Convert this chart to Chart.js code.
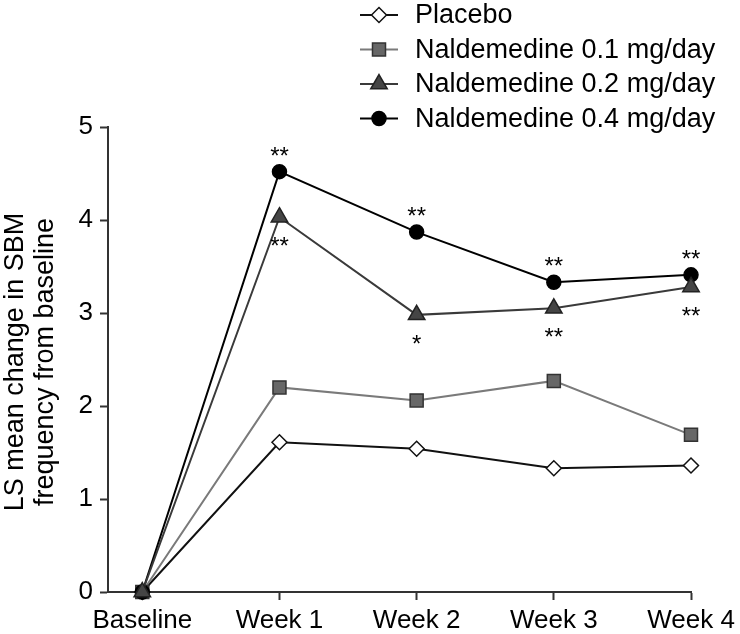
<!DOCTYPE html>
<html lang="en">
<head>
  <meta charset="UTF-8">
  <title>LS mean change in SBM frequency</title>
  <script src="https://cdn.jsdelivr.net/npm/chart.js"></script>
  <style>
    body { margin: 0; background: #fff; }
    #wrap { width: 740px; height: 634px; }
  </style>
</head>
<body>
  <div id="wrap">
    <canvas id="sbmChart" width="740" height="634"></canvas>
  </div>

  <script>
    // data
    const visits = ['Baseline', 'Week 1', 'Week 2', 'Week 3', 'Week 4'];
    const yTicks = [0, 1, 2, 3, 4, 5];
    const placebo = [0, 1.61, 1.54, 1.33, 1.36];
    const nal01 = [0, 2.20, 2.06, 2.27, 1.69];
    const nal02 = [0, 4.03, 2.98, 3.05, 3.28];
    const nal04 = [0, 4.52, 3.87, 3.33, 3.41];
    // significance marks (above 0.4 mg, below 0.2 mg)
    const stars04 = ['', '**', '**', '**', '**'];
    const stars02 = ['', '**', '*', '**', '**'];
    const seriesNames = ['Placebo', 'Naldemedine 0.1 mg/day', 'Naldemedine 0.2 mg/day', 'Naldemedine 0.4 mg/day'];

    const FONT = "'Liberation Sans', Arial, Helvetica, sans-serif";

    const toXY = arr => arr.map((v, i) => ({ x: i, y: v }));

    const styles = [
      { line: '#111', fill: '#fff', border: '#111', point: 'rectRot', r: 7.5 },
      { line: '#7a7a7a', fill: '#676767', border: '#333', point: 'rect', r: 9.2 },
      { line: '#3a3a3a', fill: '#454545', border: '#222', point: 'triangle', r: 9.5 },
      { line: '#000', fill: '#000', border: '#000', point: 'circle', r: 7 }
    ];
    const values = [placebo, nal01, nal02, nal04];
    const drawOrder = [4, 3, 1, 2];

    const datasets = values.map((vals, i) => ({
      label: seriesNames[i],
      data: toXY(vals),
      borderColor: styles[i].line,
      borderWidth: 2,
      backgroundColor: styles[i].fill,
      pointStyle: styles[i].point,
      pointRadius: styles[i].r,
      pointBackgroundColor: styles[i].fill,
      pointBorderColor: styles[i].border,
      pointBorderWidth: 1.5,
      tension: 0,
      clip: false,
      order: drawOrder[i]
    }));

    // legend, axis title and asterisks drawn by hand
    const extras = {
      id: 'extras',
      afterDraw(chart) {
        const ctx = chart.ctx;
        ctx.save();

        // y axis title, two rotated lines
        ctx.fillStyle = '#000';
        ctx.font = '27px ' + FONT;
        ctx.textAlign = 'center';
        ctx.textBaseline = 'alphabetic';
        ctx.save();
        ctx.translate(23, 362);
        ctx.rotate(-Math.PI / 2);
        ctx.fillText('LS mean change in SBM', 0, 0);
        ctx.restore();
        ctx.save();
        ctx.translate(53, 362);
        ctx.rotate(-Math.PI / 2);
        ctx.fillText('frequency from baseline', 0, 0);
        ctx.restore();

        // asterisks
        ctx.font = '24px ' + FONT;
        ctx.textAlign = 'center';
        ctx.textBaseline = 'alphabetic';
        const m04 = chart.getDatasetMeta(3).data;
        const m02 = chart.getDatasetMeta(2).data;
        stars04.forEach((s, i) => {
          if (s) ctx.fillText(s, m04[i].x, m04[i].y - 22 + 14);
        });
        stars02.forEach((s, i) => {
          if (s) ctx.fillText(s, m02[i].x, m02[i].y + 23 + 14);
        });

        // legend
        ctx.font = '27px ' + FONT;
        ctx.textAlign = 'left';
        ctx.textBaseline = 'middle';
        seriesNames.forEach((name, i) => {
          const y = 15 + i * 34.5;
          const st = styles[i];
          ctx.strokeStyle = st.line;
          ctx.lineWidth = 2;
          ctx.beginPath();
          ctx.moveTo(360, y);
          ctx.lineTo(398, y);
          ctx.stroke();
          ctx.fillStyle = st.fill;
          ctx.strokeStyle = st.border;
          ctx.lineWidth = 1.5;
          Chart.helpers.drawPoint(ctx, { pointStyle: st.point, radius: st.r, borderWidth: 1.5, rotation: 0 }, 379, y);
          ctx.fillStyle = '#000';
          ctx.fillText(name, 415, y + 1);
        });

        ctx.restore();
      }
    };

    new Chart(document.getElementById('sbmChart'), {
      type: 'line',
      data: { datasets: datasets },
      options: {
        responsive: false,
        animation: false,
        devicePixelRatio: 1,
        layout: { padding: { top: 127, right: 49, left: 0, bottom: 0 } },
        plugins: {
          legend: { display: false },
          tooltip: { enabled: false }
        },
        scales: {
          x: {
            type: 'linear',
            min: -0.25,
            max: 4,
            afterBuildTicks: s => { s.ticks = visits.map((_, i) => ({ value: i })); },
            afterFit: s => { s.height = 42; },
            ticks: {
              callback: v => visits[v],
              color: '#000',
              font: { family: FONT, size: 26 },
              padding: 5,
              maxRotation: 0,
              autoSkip: false
            },
            grid: { drawOnChartArea: false, drawTicks: true, tickLength: 8, tickColor: '#333', tickWidth: 2 },
            border: { display: true, color: '#333', width: 2 }
          },
          y: {
            min: 0,
            max: 5,
            afterBuildTicks: s => { s.ticks = yTicks.map(v => ({ value: v })); },
            afterFit: s => { s.width = 108; },
            ticks: {
              color: '#000',
              font: { family: FONT, size: 26 },
              padding: 7
            },
            grid: { drawOnChartArea: false, drawTicks: true, tickLength: 8, tickColor: '#333', tickWidth: 2 },
            border: { display: true, color: '#333', width: 2 }
          }
        }
      },
      plugins: [extras]
    });
  </script>
</body>
</html>
